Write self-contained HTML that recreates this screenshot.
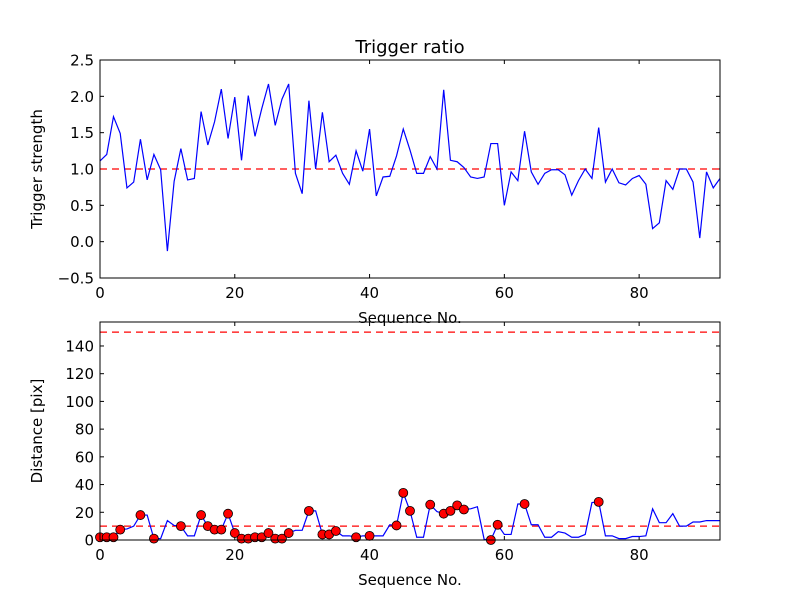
<!DOCTYPE html>
<html><head><meta charset="utf-8"><style>
body{margin:0;background:#fff}
svg text{font-family:"DejaVu Sans","Liberation Sans",sans-serif;fill:#000}
</style></head><body>
<svg id="c" width="800" height="600"></svg>
<script>
const ratio=[1.11,1.20,1.72,1.49,0.74,0.82,1.41,0.85,1.20,0.99,-0.13,0.83,1.28,0.85,0.87,1.79,1.33,1.65,2.10,1.42,1.99,1.12,2.01,1.45,1.83,2.17,1.60,1.96,2.17,0.94,0.66,1.94,1.00,1.78,1.10,1.19,0.94,0.79,1.25,0.97,1.55,0.63,0.89,0.90,1.18,1.55,1.26,0.94,0.94,1.17,1.00,2.09,1.12,1.10,1.02,0.89,0.87,0.89,1.35,1.35,0.50,0.96,0.84,1.52,0.96,0.79,0.94,0.99,0.99,0.92,0.64,0.84,1.00,0.87,1.57,0.82,1.00,0.81,0.78,0.87,0.91,0.79,0.18,0.26,0.84,0.72,1.00,1.00,0.82,0.05,0.96,0.74,0.87];
const dist=[2,2,2,7.5,8,10,18,18,1,1,14,10.5,10,3,3,18,10,7.5,7.5,19,5,1,1,2,2,5,1,1,5,7,7,21,21,4,4,6.5,3,3,2,3,3,3,3,11,10.5,34,21,2,2,25.5,20.5,19,21,25,22,22.5,24,0.5,0,11,4,4,26,26,11,11,2,2,6,5,2,2,4,27,27.5,3,3,1,1,2.5,2.5,3,22.5,12.5,12.5,19,10,10,13,13,14,14,14];
const markerIdx=[0,1,2,3,6,8,12,15,16,17,18,19,20,21,22,23,24,25,26,27,28,31,33,34,35,38,40,44,45,46,49,51,52,53,54,58,59,63,74];
const xTicks=[0,20,40,60,80];
const yTicksTop=[-0.5,0,0.5,1,1.5,2,2.5];
const yTicksBot=[0,20,40,60,80,100,120,140];
const ratioThresh=1.0, distThresh=[150,10];

const NS='http://www.w3.org/2000/svg';
const svg=document.getElementById('c');
function mk(t,a,p){const e=document.createElementNS(NS,t);for(const k in a)e.setAttribute(k,a[k]);(p||svg).appendChild(e);return e;}
const L=100,R=720;
const sx=v=>L+(v/92)*(R-L);
function axes(top,bot,y0,y1,yt,fmt,ylab,nm){
  const sy=v=>bot-(v-y0)/(y1-y0)*(bot-top);
  const g=mk('g',{});
  
  
  xTicks.forEach(t=>{const x=sx(t);
    mk('line',{x1:x,x2:x,y1:bot,y2:bot-4,stroke:'#000'},g);
    mk('line',{x1:x,x2:x,y1:top,y2:top+4,stroke:'#000'},g);
    const tx=mk('text',{x:x,y:bot+20,'text-anchor':'middle','font-size':15},g);tx.textContent=t;
    
    });
  yt.forEach(t=>{const y=sy(t);
    mk('line',{x1:L,x2:L+4,y1:y,y2:y,stroke:'#000'},g);
    mk('line',{x1:R,x2:R-4,y1:y,y2:y,stroke:'#000'},g);
    const tx=mk('text',{x:L-6,y:y+5.5,'text-anchor':'end','font-size':15},g);tx.textContent=fmt(t);
    
    });
  const xl=mk('text',{x:(L+R)/2,y:bot+45,'text-anchor':'middle','font-size':15},g);xl.textContent='Sequence No.';
  
  
  const yl=mk('text',{x:0,y:0,'text-anchor':'middle','font-size':15,transform:`translate(42,${(top+bot)/2}) rotate(-90)`},g);yl.textContent=ylab;
  
  
  return {sy,g};
}
// top
const A=axes(60,278,-0.5,2.5,yTicksTop,v=>v.toFixed(1).replace('-','\u2212'),'Trigger strength','top-axes');
const cp1=mk('clipPath',{id:'c1'});mk('rect',{x:L,y:60,width:R-L,height:218},cp1);
const th1=mk('line',{x1:L,x2:R,y1:A.sy(ratioThresh),y2:A.sy(ratioThresh),stroke:'#f00','stroke-dasharray':'7,5','stroke-width':1.2});


const l1=mk('polyline',{points:ratio.map((v,i)=>sx(i)+','+A.sy(v)).join(' '),fill:'none',stroke:'#00f','stroke-width':1.2,'clip-path':'url(#c1)'});


mk('rect',{x:L,y:60,width:R-L,height:218,fill:'none',stroke:'#000'});
const ti=mk('text',{x:410,y:53,'text-anchor':'middle','font-size':18});ti.textContent='Trigger ratio';


// bottom
const B=axes(322,540,0,157.3,yTicksBot,v=>String(v),'Distance [pix]','bottom-axes');
distThresh.forEach(t=>{const l=mk('line',{x1:L,x2:R,y1:B.sy(t),y2:B.sy(t),stroke:'#f00','stroke-dasharray':'7,5','stroke-width':1.2});
  
  });
const l2=mk('polyline',{points:dist.map((v,i)=>sx(i)+','+B.sy(v)).join(' '),fill:'none',stroke:'#00f','stroke-width':1.2});


markerIdx.forEach(i=>{const c=mk('circle',{cx:sx(i),cy:B.sy(dist[i]),r:4.5,fill:'#f00',stroke:'#000','stroke-width':0.8});
  
  });
mk('rect',{x:L,y:322,width:R-L,height:218,fill:'none',stroke:'#000'});
</script>
</body></html>
